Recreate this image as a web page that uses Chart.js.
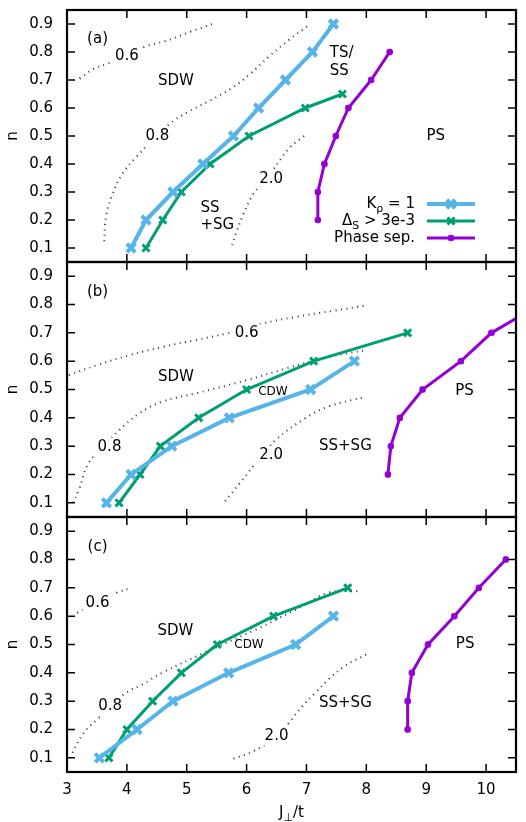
<!DOCTYPE html>
<html>
<head>
<meta charset="utf-8">
<script src="https://cdn.jsdelivr.net/npm/chart.js@4.4.0/dist/chart.umd.min.js"></script>
<style>
  body { margin: 0; background: #fff; }
  #wrap { position: relative; width: 526px; height: 822px; }
  canvas { position: absolute; left: 0; top: 0; }
</style>
</head>
<body>
<div id="wrap">
  <canvas id="chartA" width="526" height="822"></canvas>
  <canvas id="chartB" width="526" height="822"></canvas>
  <canvas id="chartC" width="526" height="822"></canvas>
</div>
<script>
// tick values
const nTicks = [0.1, 0.2, 0.3, 0.4, 0.5, 0.6, 0.7, 0.8, 0.9];
const xTicks = [3, 4, 5, 6, 7, 8, 9, 10];

// ---- panel (a) ----
const aKrhoX = [4.07, 4.32, 4.77, 5.27, 5.78, 6.2, 6.65, 7.1, 7.45];
const aKrhoN = [0.1, 0.2, 0.3, 0.4, 0.5, 0.6, 0.7, 0.8, 0.9];
const aGapX = [4.32, 4.6, 4.91, 5.39, 6.04, 6.98, 7.6];
const aGapN = [0.1, 0.2, 0.3, 0.4, 0.5, 0.6, 0.65];
const aPsX = [7.19, 7.19, 7.3, 7.49, 7.7, 8.08, 8.39];
const aPsN = [0.2, 0.3, 0.4, 0.5, 0.6, 0.7, 0.8];
const aC06X = [3.21, 3.43, 3.65, 4.0, 4.31, 4.63, 5.07, 5.45];
const aC06N = [0.705, 0.738, 0.756, 0.786, 0.82, 0.838, 0.873, 0.902];
const aC08X = [7.01, 6.71, 6.38, 6.05, 5.73, 5.34, 5.02, 4.69, 4.14, 3.92, 3.76, 3.65, 3.62];
const aC08N = [0.891, 0.844, 0.785, 0.72, 0.668, 0.621, 0.586, 0.539, 0.421, 0.363, 0.292, 0.21, 0.11];
const aC20X = [6.96, 6.71, 6.41, 6.11, 5.95, 5.84, 5.75];
const aC20N = [0.5, 0.456, 0.37, 0.292, 0.222, 0.163, 0.104];

// ---- panel (b) ----
const bKrhoX = [3.66, 4.07, 4.75, 5.71, 7.07, 7.8];
const bKrhoN = [0.1, 0.2, 0.3, 0.4, 0.5, 0.6];
const bGapX = [3.87, 4.22, 4.56, 5.2, 6.0, 7.12, 8.69];
const bGapN = [0.1, 0.2, 0.3, 0.4, 0.5, 0.6, 0.7];
const bPsX = [8.36, 8.41, 8.56, 8.94, 9.58, 10.09, 10.9];
const bPsN = [0.2, 0.3, 0.4, 0.5, 0.6, 0.7, 0.8];
const bC06X = [3.03, 3.5, 4.04, 4.59, 5.14, 5.68, 6.0, 6.27, 6.82, 7.48, 8.02];
const bC06N = [0.551, 0.586, 0.621, 0.65, 0.674, 0.698, 0.712, 0.733, 0.756, 0.779, 0.797];
const bC08X = [3.1, 3.2, 3.36, 3.62, 3.88, 4.21, 4.59, 5.18, 6.0, 6.66, 7.37, 8.0];
const bC08N = [0.1, 0.147, 0.24, 0.3, 0.358, 0.416, 0.457, 0.488, 0.533, 0.574, 0.615, 0.639];
const bC20X = [5.64, 5.89, 6.11, 6.3, 6.49, 6.98, 7.37, 8.0];
const bC20N = [0.106, 0.17, 0.229, 0.275, 0.323, 0.399, 0.44, 0.475];

// ---- panel (c) ----
const cKrhoX = [3.54, 4.17, 4.77, 5.7, 6.82, 7.45];
const cKrhoN = [0.1, 0.2, 0.3, 0.4, 0.5, 0.6];
const cGapX = [3.7, 4.0, 4.43, 4.91, 5.51, 6.45, 7.69];
const cGapN = [0.1, 0.2, 0.3, 0.4, 0.5, 0.6, 0.7];
const cPsX = [8.69, 8.69, 8.76, 9.03, 9.47, 9.88, 10.33];
const cPsN = [0.2, 0.3, 0.4, 0.5, 0.6, 0.7, 0.8];
const cC06X = [3.17, 3.51, 3.83, 4.07];
const cC06N = [0.612, 0.65, 0.683, 0.7];
const cC08X = [3.09, 3.28, 3.5, 3.72, 3.99, 4.26, 4.59, 5.41, 6.16, 6.55, 6.93, 7.37, 7.91];
const cC08N = [0.118, 0.188, 0.235, 0.28, 0.33, 0.359, 0.4, 0.482, 0.553, 0.594, 0.635, 0.683, 0.688];
const cC20X = [5.78, 6.11, 6.5, 6.71, 6.93, 7.15, 7.37, 7.64, 8.0];
const cC20N = [0.097, 0.123, 0.176, 0.224, 0.282, 0.33, 0.377, 0.424, 0.465];

// region labels: text, x, n, kind
const aLabels = [
  ['(a)', 3.51, 0.846, 'txt'], ['SDW', 4.82, 0.695, 'txt'], ['PS', 9.16, 0.498, 'txt'],
  ['TS/', 7.39, 0.797, 'left'], ['SS', 7.39, 0.733, 'left'],
  ['SS', 5.23, 0.244, 'left'], ['+SG', 5.23, 0.18, 'left'],
  ['0.6', 4.0, 0.786, 'cont'], ['0.8', 4.51, 0.498, 'cont'], ['2.0', 6.41, 0.346, 'cont']
];
const bLabels = [
  ['(b)', 3.51, 0.843, 'txt'], ['SDW', 4.82, 0.544, 'txt'], ['CDW', 6.44, 0.49, 'small'],
  ['SS+SG', 7.65, 0.299, 'txt'], ['PS', 9.64, 0.495, 'txt'],
  ['0.6', 6.0, 0.698, 'cont'], ['0.8', 3.71, 0.298, 'cont'], ['2.0', 6.41, 0.267, 'cont']
];
const cLabels = [
  ['(c)', 3.51, 0.842, 'txt'], ['SDW', 4.81, 0.547, 'txt'], ['CDW', 6.04, 0.497, 'small'],
  ['SS+SG', 7.65, 0.294, 'txt'], ['PS', 9.65, 0.5, 'txt'],
  ['0.6', 3.51, 0.647, 'cont'], ['0.8', 3.72, 0.282, 'cont'], ['2.0', 6.5, 0.176, 'cont']
];

Chart.defaults.font.family = 'DejaVu Sans';
Chart.defaults.font.size = 15;
Chart.defaults.color = '#000';

const blue = '#56B4E9', green = '#009E73', purple = '#9400D3';
const kStyle = { borderColor: blue, backgroundColor: blue, borderWidth: 4, pointStyle: 'crossRot', pointRadius: 6, pointBorderWidth: 4 };
const gStyle = { borderColor: green, backgroundColor: green, borderWidth: 3, pointStyle: 'crossRot', pointRadius: 5, pointBorderWidth: 3 };
const pStyle = { borderColor: purple, backgroundColor: purple, borderWidth: 3, pointStyle: 'rectRounded', pointRadius: 3.2, pointBorderWidth: 1 };
const dotStyle = { borderColor: '#333', borderWidth: 2, borderDash: [1, 4.5], pointRadius: 0, tension: 0.4 };

function pts(xs, ns) {
  return xs.map((x, i) => ({ x: x, y: ns[i] }));
}

// text with subscripts: parts = [[text, isSub], ...]
function richText(ctx, parts, x, y, align) {
  const big = '15px "DejaVu Sans"', small = '11px "DejaVu Sans"';
  let w = 0;
  parts.forEach(p => { ctx.font = p[1] ? small : big; w += ctx.measureText(p[0]).width; });
  let cx = align === 'right' ? x - w : (align === 'center' ? x - w / 2 : x);
  ctx.textBaseline = 'middle';
  ctx.textAlign = 'left';
  parts.forEach(p => {
    ctx.font = p[1] ? small : big;
    ctx.fillText(p[0], cx, p[1] ? y + 5 : y);
    cx += ctx.measureText(p[0]).width;
  });
}

const framePlugin = {
  id: 'frame',
  afterDatasetsDraw(chart, args, opts) {
    const { ctx, scales: { x, y } } = chart;
    ctx.save();
    ctx.fillStyle = '#000';
    opts.labels.forEach(l => {
      const px = x.getPixelForValue(l[1]), py = y.getPixelForValue(l[2]);
      ctx.font = (l[3] === 'small' ? '12px' : '15px') + ' "DejaVu Sans"';
      ctx.textBaseline = 'middle';
      ctx.textAlign = l[3] === 'left' ? 'left' : 'center';
      if (l[3] === 'cont') {
        const w = ctx.measureText(l[0]).width;
        ctx.fillStyle = '#fff';
        ctx.fillRect(px - w / 2 - 3, py - 9, w + 6, 18);
        ctx.fillStyle = '#000';
      }
      ctx.fillText(l[0], px, py);
    });
    ctx.restore();
  },
  afterDraw(chart, args, opts) {
    const { ctx, chartArea: a, scales: { x, y } } = chart;
    ctx.save();
    ctx.strokeStyle = '#000';
    ctx.lineWidth = 1.5;
    ctx.beginPath();
    xTicks.forEach(v => {
      const px = x.getPixelForValue(v);
      ctx.moveTo(px, a.top); ctx.lineTo(px, a.top + 8);
      ctx.moveTo(px, a.bottom); ctx.lineTo(px, a.bottom - 8);
    });
    nTicks.forEach(v => {
      const py = y.getPixelForValue(v);
      ctx.moveTo(a.left, py); ctx.lineTo(a.left + 8, py);
      ctx.moveTo(a.right, py); ctx.lineTo(a.right - 8, py);
    });
    ctx.stroke();
    ctx.lineWidth = 2.2;
    ctx.strokeRect(a.left, a.top, a.right - a.left, a.bottom - a.top);

    // y axis title
    ctx.fillStyle = '#000';
    ctx.font = '15px "DejaVu Sans"';
    ctx.translate(13, (a.top + a.bottom) / 2);
    ctx.rotate(-Math.PI / 2);
    ctx.textAlign = 'center';
    ctx.textBaseline = 'middle';
    ctx.fillText('n', 0, 0);
    ctx.setTransform(1, 0, 0, 1, 0, 0);
    ctx.restore();

    ctx.save();
    ctx.fillStyle = '#000';
    if (opts.xTitle) {
      richText(ctx, [['J', false], ['\u22A5', true], ['/t', false]], (a.left + a.right) / 2, a.bottom + 41, 'center');
    }
    if (opts.legend) {
      const lineEnd = a.right - 41, lineStart = lineEnd - 48, textRight = lineStart - 12;
      const rows = [
        [[['K', false], ['\u03C1', true], [' = 1', false]], kStyle, a.top + 194],
        [[['\u0394', false], ['S', true], [' > 3e-3', false]], gStyle, a.top + 211],
        [[['Phase sep.', false]], pStyle, a.top + 228]
      ];
      rows.forEach(r => {
        const s = r[1];
        ctx.strokeStyle = s.borderColor;
        ctx.lineWidth = s.borderWidth;
        ctx.beginPath();
        ctx.moveTo(lineStart, r[2]); ctx.lineTo(lineEnd, r[2]);
        ctx.stroke();
        ctx.fillStyle = s.backgroundColor;
        ctx.lineWidth = s.pointBorderWidth;
        Chart.helpers.drawPoint(ctx, { pointStyle: s.pointStyle, radius: s.pointRadius, borderWidth: s.pointBorderWidth }, (lineStart + lineEnd) / 2, r[2]);
        ctx.fillStyle = '#000';
        richText(ctx, r[0], textRight, r[2], 'right');
      });
    }
    ctx.restore();
  }
};

function makeChart(id, pad, sets, labels, isBottom, legend) {
  const datasets = [
    Object.assign({ data: pts(sets[0][0], sets[0][1]) }, kStyle),
    Object.assign({ data: pts(sets[1][0], sets[1][1]) }, gStyle),
    Object.assign({ data: pts(sets[2][0], sets[2][1]) }, pStyle)
  ];
  sets.slice(3).forEach(c => datasets.push(Object.assign({ data: pts(c[0], c[1]) }, dotStyle)));

  return new Chart(document.getElementById(id).getContext('2d'), {
    type: 'line',
    data: { datasets: datasets },
    options: {
      responsive: false,
      animation: false,
      events: [],
      layout: { padding: pad },
      plugins: {
        legend: { display: false },
        tooltip: { enabled: false },
        frame: { labels: labels, xTitle: isBottom, legend: legend }
      },
      scales: {
        x: {
          type: 'linear',
          min: 3,
          max: 10.5,
          display: isBottom,
          grid: { display: false, drawTicks: false },
          border: { display: false },
          ticks: { padding: 9, font: { size: 15 }, callback: v => String(v) },
          afterBuildTicks: s => { s.ticks = xTicks.map(v => ({ value: v })); },
          afterFit: s => { s.height = isBottom ? 50 : 0; s.paddingLeft = 0; s.paddingRight = 0; }
        },
        y: {
          type: 'linear',
          min: 0.05,
          max: 0.95,
          grid: { display: false, drawTicks: false },
          border: { display: false },
          ticks: { padding: 14, font: { size: 15 }, callback: v => v.toFixed(1) },
          afterBuildTicks: s => { s.ticks = nTicks.map(v => ({ value: v })); },
          afterFit: s => { s.width = 67; s.paddingTop = 0; s.paddingBottom = 0; }
        }
      }
    },
    plugins: [framePlugin]
  });
}

makeChart('chartA', { top: 7, bottom: 560, left: 0, right: 2 },
  [[aKrhoX, aKrhoN], [aGapX, aGapN], [aPsX, aPsN], [aC06X, aC06N], [aC08X, aC08N], [aC20X, aC20N]],
  aLabels, false, true);
makeChart('chartB', { top: 262, bottom: 305, left: 0, right: 2 },
  [[bKrhoX, bKrhoN], [bGapX, bGapN], [bPsX, bPsN], [bC06X, bC06N], [bC08X, bC08N], [bC20X, bC20N]],
  bLabels, false, false);
makeChart('chartC', { top: 517, bottom: 0, left: 0, right: 2 },
  [[cKrhoX, cKrhoN], [cGapX, cGapN], [cPsX, cPsN], [cC06X, cC06N], [cC08X, cC08N], [cC20X, cC20N]],
  cLabels, true, false);
</script>
</body>
</html>
